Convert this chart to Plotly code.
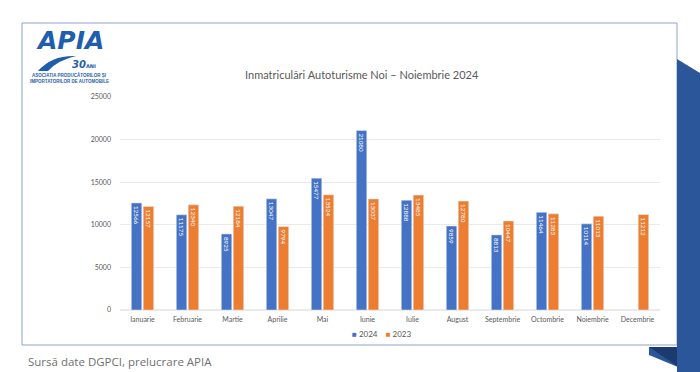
import plotly.graph_objects as go

months = ["Ianuarie", "Februarie", "Martie", "Aprilie", "Mai", "Iunie", "Iulie",
          "August", "Septembrie", "Octombrie", "Noiembrie", "Decembrie"]
values_2024 = [12566, 11175, 8925, 13047, 15477, 21080, 12888, 9859, 8813, 11464, 10114, None]
values_2023 = [12157, 12340, 12184, 9794, 13524, 13037, 13485, 12780, 10447, 11283, 11013, 11212]
y_ticks = [0, 5000, 10000, 15000, 20000, 25000]
series_names = ["2024", "2023"]

W, H = 700, 372
L, R, T, B = 120, 40, 97, 62
PW, PH = W - L - R, H - T - B

def px(x):
    return (x - L) / PW

def py(y):
    return (H - B - y) / PH

FONT = "Lato"
BLUE = "#4472C4"
ORANGE = "#ED7D31"
LOGO = "#1F5EAD"

fig = go.Figure()
for name, vals, col in [(series_names[0], values_2024, BLUE), (series_names[1], values_2023, ORANGE)]:
    fig.add_trace(go.Bar(
        x=months, y=vals, name=name, marker_color=col,
        text=[("" if v is None else str(v)) for v in vals],
        textposition="inside", insidetextanchor="end", textangle=90,
        textfont=dict(color="white", size=6.3, family=FONT),
        constraintext="none", showlegend=False, hoverinfo="x+y+name",
    ))

shapes = [
    # slide frame
    dict(type="rect", xref="paper", yref="paper",
         x0=px(22), x1=px(677), y0=py(345), y1=py(23),
         line=dict(color="#8FA3C8", width=1), fillcolor="rgba(0,0,0,0)", layer="below"),
    # right ribbon
    dict(type="path", xref="paper", yref="paper",
         path=f"M {px(677)},{py(59)} L {px(700)},{py(73)} L {px(700)},{py(372)} L {px(677)},{py(372)} Z",
         fillcolor="#2B579A", line=dict(width=0)),
    dict(type="path", xref="paper", yref="paper",
         path=f"M {px(649)},{py(347)} L {px(677)},{py(347)} L {px(677)},{py(372)} L {px(690)},{py(372)} L {px(649)},{py(355)} Z",
         fillcolor="#2B579A", line=dict(width=0)),
    dict(type="path", xref="paper", yref="paper",
         path=f"M {px(649)},{py(347)} L {px(677)},{py(347)} L {px(677)},{py(366)} Z",
         fillcolor="#1B3A6E", line=dict(width=0)),
    # logo swoosh
    dict(type="path", xref="paper", yref="paper",
         path=(f"M {px(38)},{py(71)} Q {px(52)},{py(55)} {px(76)},{py(56)} "
               f"Q {px(58)},{py(60)} {px(48)},{py(71)} Z"),
         fillcolor=LOGO, line=dict(width=0)),
]

legend_text = (f"<span style='color:{BLUE}'>■</span> {series_names[0]}"
               f"    <span style='color:{ORANGE}'>■</span> {series_names[1]}")

annotations = [
    dict(text="Inmatriculări Autoturisme Noi – Noiembrie 2024", x=px(362), y=py(74),
         xref="paper", yref="paper", showarrow=False, xanchor="center", yanchor="middle",
         font=dict(family=FONT, size=11, color="#595959")),
    dict(text=legend_text, x=px(381), y=py(334),
         xref="paper", yref="paper", showarrow=False, xanchor="center", yanchor="middle",
         font=dict(family=FONT, size=8, color="#595959")),
    dict(text="Sursă date DGPCI, prelucrare APIA", x=px(26), y=py(361),
         xref="paper", yref="paper", showarrow=False, xanchor="left", yanchor="middle",
         font=dict(family="Open Sans", size=11.5, color="#707070")),
    # logo approximation
    dict(text="<b><i>APIA</i></b>", x=px(70), y=py(41),
         xref="paper", yref="paper", showarrow=False, xanchor="center", yanchor="middle",
         font=dict(family="DejaVu Sans", size=25, color=LOGO)),
    dict(text="<b><i>30</i></b><span style='font-size:5px'><b>ANI</b></span>", x=px(84), y=py(64),
         xref="paper", yref="paper", showarrow=False, xanchor="center", yanchor="middle",
         font=dict(family="DejaVu Sans", size=10, color=LOGO)),
    dict(text="<b>ASOCIATIA PRODUCĂTORILOR ȘI</b>", x=px(69), y=py(75),
         xref="paper", yref="paper", showarrow=False, xanchor="center", yanchor="middle",
         font=dict(family="Liberation Sans Narrow, Liberation Sans", size=4.5, color=LOGO)),
    dict(text="<b>IMPORTATORILOR DE AUTOMOBILE</b>", x=px(69), y=py(81),
         xref="paper", yref="paper", showarrow=False, xanchor="center", yanchor="middle",
         font=dict(family="Liberation Sans Narrow, Liberation Sans", size=4.5, color=LOGO)),
]

fig.update_layout(
    width=W, height=H,
    margin=dict(l=L, r=R, t=T, b=B, autoexpand=False),
    paper_bgcolor="white", plot_bgcolor="white",
    barmode="group", bargap=0.47, bargroupgap=0.12,
    font=dict(family=FONT, size=7, color="#595959"),
    showlegend=False,
    xaxis=dict(showgrid=False, showline=False, ticks="", tickfont=dict(size=7, color="#595959"),
               ticklabelstandoff=4),
    yaxis=dict(range=[0, 25000], tickvals=y_ticks, tickformat="d", showgrid=True,
               gridcolor="#EAEAEA", gridwidth=1,
               zeroline=True, zerolinecolor="#EAEAEA", showline=False, ticks="",
               tickfont=dict(size=7, color="#595959"), ticklabelstandoff=8),
    shapes=shapes,
    annotations=annotations,
)

fig.write_html("out.html", config={"displayModeBar": False},
               post_script="document.body.style.margin='0';document.body.style.overflow='hidden';")
